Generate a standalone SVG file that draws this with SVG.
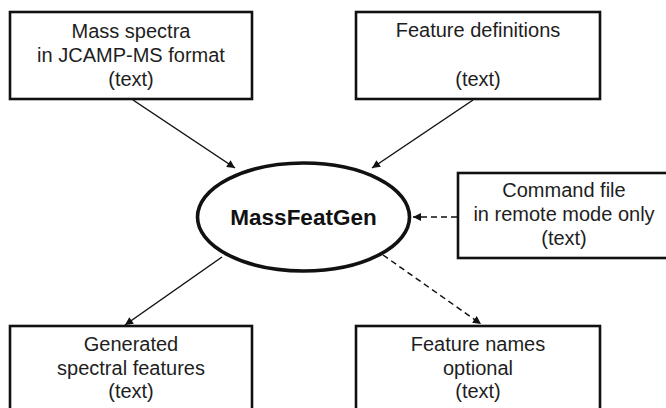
<svg xmlns="http://www.w3.org/2000/svg" width="666" height="408" viewBox="0 0 666 408">
  <style>
    .box { fill: #fff; stroke: #111; stroke-width: 2.6; }
    .hub { fill: #fff; stroke: #111; stroke-width: 3.6; }
    .lbl { font-family: "Liberation Sans", Arial, sans-serif; font-size: 20px; fill: #1e1e1e; text-anchor: middle; }
    .hubl { font-family: "Liberation Sans", Arial, sans-serif; font-size: 22.5px; font-weight: bold; fill: #111; text-anchor: middle; }
    .edge { fill: none; stroke: #111; stroke-width: 1.5; marker-end: url(#arrow); }
    .dash { stroke-dasharray: 6 4; }
  </style>
  <defs>
    <marker id="arrow" viewBox="0 0 10 10" refX="10" refY="5" markerWidth="9" markerHeight="8" markerUnits="userSpaceOnUse" orient="auto">
      <path d="M0,0 L10,5 L0,10 Z" fill="#111"/>
    </marker>
  </defs>
  <rect width="666" height="408" fill="#fff"/>

  <g id="connectors">
    <line class="edge" x1="133" y1="100" x2="235" y2="168"/>
    <line class="edge" x1="473" y1="100" x2="372" y2="168"/>
    <line class="edge dash" x1="457" y1="217" x2="413" y2="217"/>
    <line class="edge" x1="222" y1="257" x2="125" y2="325"/>
    <line class="edge dash" x1="383" y1="255" x2="481" y2="324"/>
  </g>

  <g id="mass-spectra">
    <rect class="box" x="10" y="12" width="242" height="87"/>
    <text class="lbl" x="131" y="38">Mass spectra</text>
    <text class="lbl" x="131" y="62">in JCAMP-MS format</text>
    <text class="lbl" x="131" y="86">(text)</text>
  </g>

  <g id="feature-definitions">
    <rect class="box" x="356" y="12" width="244" height="87"/>
    <text class="lbl" x="478" y="37">Feature definitions</text>
    <text class="lbl" x="478" y="86">(text)</text>
  </g>

  <g id="massfeatgen">
    <ellipse class="hub" cx="303.5" cy="217" rx="106" ry="54"/>
    <text class="hubl" x="303.5" y="225">MassFeatGen</text>
  </g>

  <g id="command-file">
    <rect class="box" x="458" y="173" width="214" height="85"/>
    <text class="lbl" x="564" y="197">Command file</text>
    <text class="lbl" x="564" y="221">in remote mode only</text>
    <text class="lbl" x="564" y="245">(text)</text>
  </g>

  <g id="generated-features">
    <rect class="box" x="10" y="326" width="242" height="90"/>
    <text class="lbl" x="131" y="351">Generated</text>
    <text class="lbl" x="131" y="375">spectral features</text>
    <text class="lbl" x="131" y="398">(text)</text>
  </g>

  <g id="feature-names">
    <rect class="box" x="356" y="326" width="244" height="90"/>
    <text class="lbl" x="478" y="351">Feature names</text>
    <text class="lbl" x="478" y="375">optional</text>
    <text class="lbl" x="478" y="398">(text)</text>
  </g>
</svg>
